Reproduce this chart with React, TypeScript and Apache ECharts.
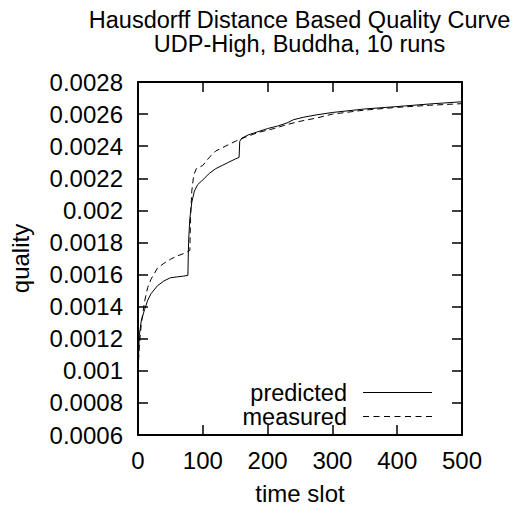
import React, { useEffect, useRef } from 'react';
import * as echarts from 'echarts';

const titleLines = ['Hausdorff Distance Based Quality Curve', 'UDP-High, Buddha, 10 runs'];
const xName = 'time slot';
const yName = 'quality';
const seriesNames = ['predicted', 'measured'];

const predictedT = [0, 2, 5, 10, 15, 20, 30, 40, 50, 60, 70, 77, 78, 80, 83, 87, 92, 100, 110, 120, 130, 140, 150, 156, 157, 160, 170, 185, 200, 215, 230, 240, 255, 275, 300, 350, 400, 450, 500];
const predictedQ = [0.00100, 0.00122, 0.00131, 0.00138, 0.00144, 0.00148, 0.00153, 0.00156, 0.00158, 0.001585, 0.00159, 0.001595, 0.00180, 0.00195, 0.00205, 0.00212, 0.00216, 0.00219, 0.00223, 0.00226, 0.00228, 0.00230, 0.00232, 0.00233, 0.00243, 0.00245, 0.00247, 0.00249, 0.00251, 0.002525, 0.002545, 0.002565, 0.00258, 0.002595, 0.00261, 0.002632, 0.002647, 0.002663, 0.002677];

const measuredT = [0, 2, 5, 10, 15, 20, 30, 40, 50, 60, 70, 80, 81, 83, 86, 90, 100, 110, 120, 135, 150, 165, 185, 210, 230, 250, 275, 300, 350, 400, 450, 500];
const measuredQ = [0.00100, 0.00115, 0.00129, 0.00143, 0.00152, 0.00157, 0.00164, 0.00167, 0.001695, 0.001715, 0.00173, 0.00175, 0.00195, 0.00212, 0.00222, 0.00226, 0.00228, 0.00233, 0.00237, 0.00240, 0.00243, 0.002455, 0.002485, 0.00251, 0.002535, 0.002555, 0.002575, 0.00260, 0.002625, 0.002642, 0.002655, 0.002665];

const xMin = 0, xMax = 500, xStep = 100;
const yMin = 0.0006, yMax = 0.0028, yStep = 0.0002;

const FONT = 'Liberation Sans';
const zip = (a: number[], b: number[]) => a.map((v, i) => [v, b[i]]);

export default function App() {
  const ref = useRef<HTMLDivElement>(null);
  useEffect(() => {
    const chart = echarts.init(ref.current!, null, { renderer: 'svg' });
    const tickStyle = { show: true, inside: true, length: 10, lineStyle: { color: '#000', width: 1.5 } };
    const lineStyle = { show: true, onZero: false, lineStyle: { color: '#000', width: 2 } };
    const labelStyle = { color: '#000', fontSize: 24, fontFamily: FONT };
    chart.setOption({
      animation: false,
      backgroundColor: '#fff',
      textStyle: { fontFamily: FONT },
      title: titleLines.map((t, i) => ({
        text: t,
        left: 299.5,
        top: 8 + i * 24,
        textAlign: 'center',
        padding: 0,
        textStyle: { color: '#000', fontSize: 23.5, fontWeight: 'normal', fontFamily: FONT, lineHeight: 23 },
      })),
      grid: { left: 137, right: 60, top: 82, bottom: 72, containLabel: false },
      legend: {
        orient: 'vertical',
        align: 'right',
        right: 90,
        top: 380.5,
        padding: 0,
        itemGap: 0,
        itemWidth: 80,
        itemHeight: 1.2,
        itemStyle: { color: '#000', borderWidth: 0 },
        textStyle: { color: '#000', fontSize: 23.5, fontFamily: FONT, lineHeight: 21.5 },
        data: [
          { name: seriesNames[0], icon: 'path://M0,0v1.2h0z M11,0h69v1.2h-69z' },
          { name: seriesNames[1], icon: 'path://M0,0v1.2h0z M11,0h6v1.2h-6z M21.5,0h6v1.2h-6z M32,0h6v1.2h-6z M42.5,0h6v1.2h-6z M53,0h6v1.2h-6z M63.5,0h6v1.2h-6z M74,0h6v1.2h-6z' },
        ],
      },
      xAxis: [
        {
          type: 'value', min: xMin, max: xMax, interval: xStep, position: 'bottom',
          name: xName, nameLocation: 'middle', nameGap: 46,
          nameTextStyle: { color: '#000', fontSize: 24, fontFamily: FONT },
          axisLine: lineStyle, axisTick: tickStyle,
          axisLabel: { ...labelStyle, margin: 13 },
          splitLine: { show: false },
        },
        {
          type: 'value', min: xMin, max: xMax, interval: xStep, position: 'top',
          axisLine: lineStyle, axisTick: tickStyle, axisLabel: { show: false }, splitLine: { show: false },
        },
      ],
      yAxis: [
        {
          type: 'value', min: yMin, max: yMax, interval: yStep, position: 'left',
          name: yName, nameLocation: 'middle', nameGap: 106, nameRotate: 90,
          nameTextStyle: { color: '#000', fontSize: 24, fontFamily: FONT },
          axisLine: lineStyle, axisTick: tickStyle,
          axisLabel: { ...labelStyle, margin: 15, formatter: (v: number) => String(parseFloat(v.toPrecision(6))) },
          splitLine: { show: false },
        },
        {
          type: 'value', min: yMin, max: yMax, interval: yStep, position: 'right',
          axisLine: lineStyle, axisTick: tickStyle, axisLabel: { show: false }, splitLine: { show: false },
        },
      ],
      series: [
        {
          name: seriesNames[0], type: 'line', xAxisIndex: 0, yAxisIndex: 0,
          data: zip(predictedT, predictedQ), symbol: 'none', color: '#000',
          lineStyle: { color: '#000', width: 1 },
        },
        {
          name: seriesNames[1], type: 'line', xAxisIndex: 0, yAxisIndex: 0,
          data: zip(measuredT, measuredQ), symbol: 'none', color: '#000',
          lineStyle: { color: '#000', width: 1, type: [6, 4] },
        },
      ],
    });
    return () => chart.dispose();
  }, []);
  return <div ref={ref} style={{ position: 'absolute', left: 0, top: 0, width: 522, height: 510 }} />;
}
